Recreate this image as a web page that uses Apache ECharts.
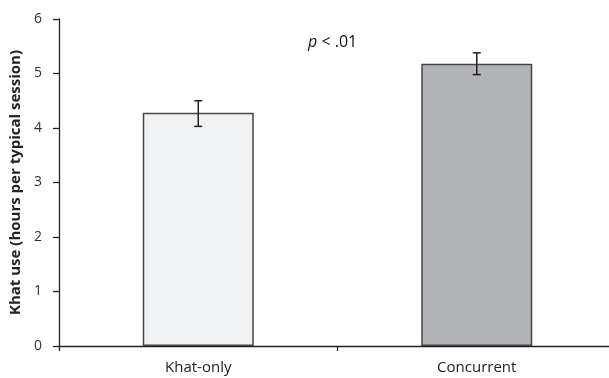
<!DOCTYPE html>
<html><head><meta charset="utf-8">
<script src="https://cdn.jsdelivr.net/npm/echarts@6/dist/echarts.min.js"></script>
<style>html,body{margin:0;padding:0;background:#fff}#c{width:609px;height:378px}</style>
</head><body><div id="c"></div>
<script>
const categories = ['Khat-only', 'Concurrent'];
const means = [4.28, 5.18];
const errLow = [4.03, 4.98];
const errHigh = [4.50, 5.38];
const barColors = ['#f0f1f3', '#b2b3b7'];
const yTicks = [0, 1, 2, 3, 4, 5, 6];

const chart = echarts.init(document.getElementById('c'));
const font = '"Open Sans", sans-serif';
chart.setOption({
  animation: false,
  grid: { left: 59, right: -7, top: 19, bottom: 32, containLabel: false, outerBoundsMode: 'none' },
  xAxis: {
    type: 'category', data: categories,
    axisLine: { lineStyle: { color: '#222', width: 1.3 } },
    axisTick: { show: true, length: 5, lineStyle: { color: '#222', width: 1.3 } },
    axisLabel: { color: '#222', fontSize: 15, fontFamily: font, margin: 14 }
  },
  yAxis: {
    type: 'value', min: 0, max: 6, interval: 1,
    name: 'Khat use (hours per typical session)', nameLocation: 'middle', nameGap: 30,
    nameTextStyle: { color: '#222', fontSize: 15, fontWeight: 'bold', fontFamily: font },
    axisLine: { show: true, lineStyle: { color: '#222', width: 1.3 } },
    axisTick: { show: true, length: 6, lineStyle: { color: '#222', width: 1.3 } },
    axisLabel: { color: '#333', fontSize: 14, fontFamily: font, margin: 17,
      formatter: v => yTicks.includes(v) ? String(v) : '' },
    splitLine: { show: false }
  },
  graphic: [{
    type: 'text', left: 308, top: 34,
    style: { text: '{i|p}{n| < .01}', fontSize: 16, fontFamily: font, fill: '#111',
      rich: { i: { fontStyle: 'italic', fontSize: 16, fontFamily: font, fill: '#111' },
              n: { fontSize: 16, fontFamily: font, fill: '#111' } } }
  }],
  series: [
    {
      type: 'bar', barWidth: 111,
      data: means.map((v, i) => ({ value: v, itemStyle: { color: barColors[i] } })),
      itemStyle: { borderColor: '#444', borderWidth: 1.5 }
    },
    {
      type: 'custom',
      data: categories.map((c, i) => [i, errLow[i], errHigh[i]]),
      renderItem: (params, api) => {
        const lo = api.coord([api.value(0), api.value(1)]);
        const hi = api.coord([api.value(0), api.value(2)]);
        const x = lo[0], hw = 4;
        const st = { stroke: '#222', lineWidth: 1.5 };
        return { type: 'group', children: [
          { type: 'line', shape: { x1: x, y1: lo[1], x2: x, y2: hi[1] }, style: st },
          { type: 'line', shape: { x1: x - hw, y1: lo[1], x2: x + hw, y2: lo[1] }, style: st },
          { type: 'line', shape: { x1: x - hw, y1: hi[1], x2: x + hw, y2: hi[1] }, style: st }
        ]};
      },
      z: 5
    }
  ]
});
</script></body></html>
